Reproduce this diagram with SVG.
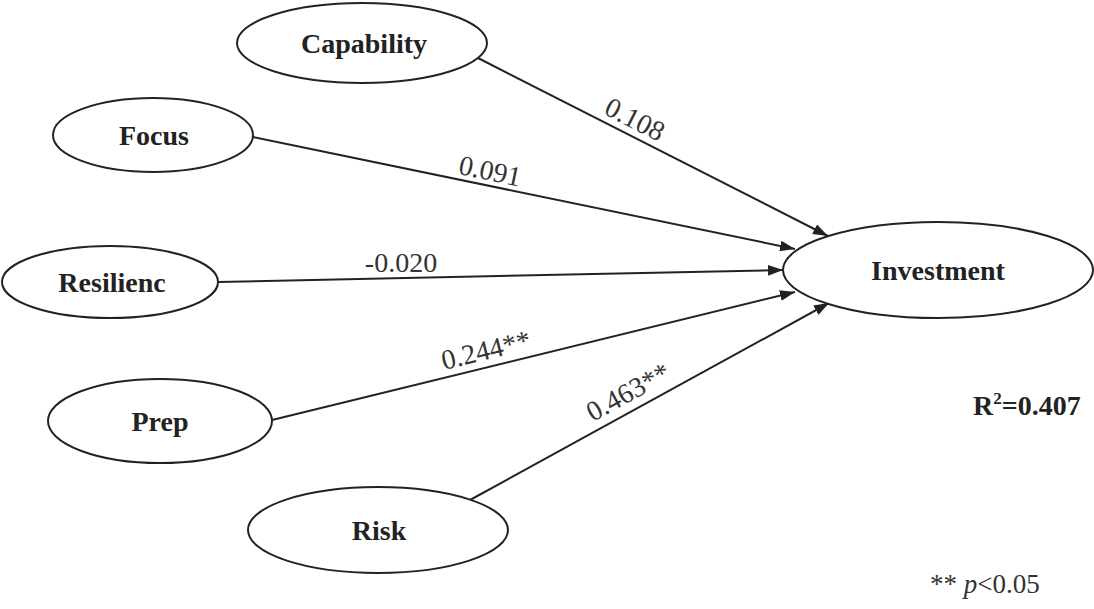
<svg xmlns="http://www.w3.org/2000/svg" width="1094" height="609" viewBox="0 0 1094 609">
<defs>
<style>
.node ellipse{fill:#fff;stroke:#222;stroke-width:2}
.node text{font-family:"Liberation Serif","Times New Roman",serif;font-weight:bold;font-size:28px;fill:#222;text-anchor:middle}
.edge line{stroke:#222;stroke-width:2;marker-end:url(#arr)}
.lbl{font-family:"Liberation Serif","Times New Roman",serif;font-size:28px;fill:#333;text-anchor:middle}
.note{font-family:"Liberation Serif","Times New Roman",serif;font-size:27px;fill:#333}
</style>
<marker id="arr" viewBox="0 0 14 10" refX="14" refY="5" markerWidth="15" markerHeight="11" markerUnits="userSpaceOnUse" orient="auto">
<path d="M0,0 L14,5 L0,10 Z" fill="#222"/>
</marker>
</defs>
<rect width="1094" height="609" fill="#fff"/>
<g id="connectors" class="edge">
<line x1="478" y1="58" x2="828" y2="236"/>
<line x1="253" y1="137" x2="795" y2="249"/>
<line x1="218" y1="282" x2="783" y2="270"/>
<line x1="272" y1="420" x2="795" y2="292"/>
<line x1="470" y1="500" x2="829" y2="303"/>
</g>
<g id="edge-labels">
<text class="lbl" transform="translate(628,133) rotate(27)" y="-6">0.108</text>
<text class="lbl" transform="translate(487,186) rotate(11.8)" y="-6">0.091</text>
<text class="lbl" x="401" y="272">-0.020</text>
<text class="lbl" transform="translate(490,367) rotate(-13.75)" y="-8">0.244**</text>
<text class="lbl" transform="translate(637,408) rotate(-28.8)" y="-9">0.463**</text>
</g>
<g id="capability" class="node"><ellipse cx="362" cy="43" rx="125" ry="40"/><text x="364" y="53">Capability</text></g>
<g id="focus" class="node"><ellipse cx="153" cy="135" rx="100" ry="37"/><text x="154" y="145">Focus</text></g>
<g id="resilienc" class="node"><ellipse cx="110" cy="282" rx="108" ry="36"/><text x="112" y="292">Resilienc</text></g>
<g id="prep" class="node"><ellipse cx="160" cy="421" rx="112" ry="42"/><text x="160" y="431">Prep</text></g>
<g id="risk" class="node"><ellipse cx="378" cy="530" rx="130" ry="43"/><text x="379" y="540">Risk</text></g>
<g id="investment" class="node"><ellipse cx="938" cy="270" rx="155" ry="48"/><text x="938" y="280">Investment</text></g>
<g id="notes">
<text x="973" y="415" style="font-family:'Liberation Serif','Times New Roman',serif;font-weight:bold;font-size:28px;fill:#222">R<tspan font-size="17" dy="-11">2</tspan><tspan dy="11">=0.407</tspan></text>
<text class="note" x="930" y="593">** <tspan font-style="italic">p</tspan>&lt;0.05</text>
</g>
</svg>
